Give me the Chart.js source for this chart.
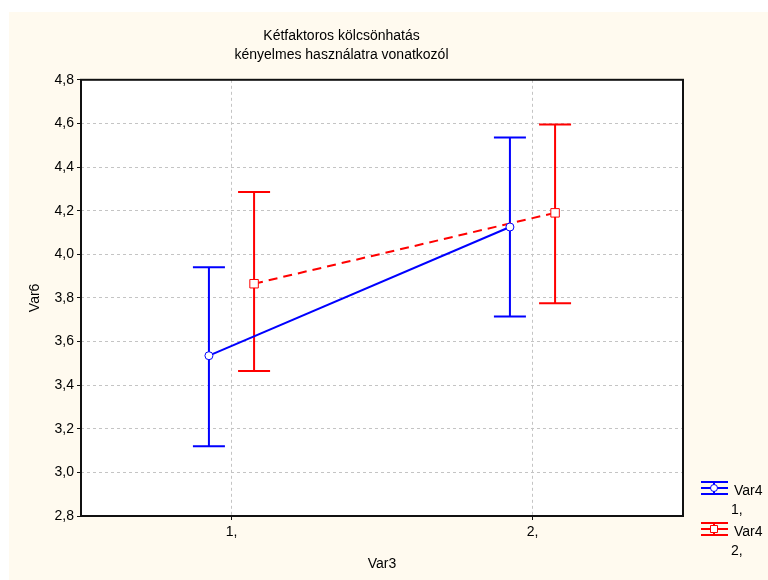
<!DOCTYPE html>
<html>
<head>
<meta charset="utf-8">
<script src="https://cdn.jsdelivr.net/npm/chart.js@4.4.1/dist/chart.umd.min.js"></script>
<style>
    html, body { margin: 0; padding: 0; background: #ffffff; }
    #wrap { width: 768px; height: 580px; }
</style>
</head>
<body>
<div id="wrap"><canvas id="interactionChart" width="768" height="580"></canvas></div>
<script>
// Data (Var6 means with confidence limits)
const categories = ['1,', '2,'];
const titleLines = ['Kétfaktoros kölcsönhatás', 'kényelmes használatra vonatkozól'];
const yTicks = [2.8, 3.0, 3.2, 3.4, 3.6, 3.8, 4.0, 4.2, 4.4, 4.6, 4.8];

const var4Labels = [['Var4', '1,'], ['Var4', '2,']];
const var4aMean = [3.535, 4.125];
const var4aLow = [3.12, 3.715];
const var4aHigh = [3.94, 4.535];
const var4bMean = [3.865, 4.19];
const var4bLow = [3.465, 3.775];
const var4bHigh = [4.285, 4.595];

const FONT = "'Liberation Sans', Arial, sans-serif";
const BLUE = '#0000ff';
const RED = '#ff0000';
const dodge = 0.075;

function buildPoints(means, shift) {
    return means.map((v, i) => ({ x: i + 1 + shift, y: v }));
}

// error bars + frame + legend + background
const errorBarPlugin = {
    id: 'errorBars',
    beforeDraw(chart) {
        const ctx = chart.ctx;
        const a = chart.chartArea;
        ctx.save();
        ctx.fillStyle = '#fffaef';
        ctx.fillRect(9, 12, chart.width - 9, chart.height - 12);
        ctx.fillStyle = '#ffffff';
        ctx.fillRect(a.left, a.top, a.right - a.left, a.bottom - a.top);
        ctx.restore();
    },
    beforeDatasetsDraw(chart) {
        const ctx = chart.ctx;
        const xs = chart.scales.x;
        const ys = chart.scales.y;
        const sets = [
            { low: var4aLow, high: var4aHigh, shift: -dodge, color: BLUE },
            { low: var4bLow, high: var4bHigh, shift: dodge, color: RED }
        ];
        ctx.save();
        sets.forEach(s => {
            ctx.strokeStyle = s.color;
            ctx.lineWidth = 2;
            s.low.forEach((lo, i) => {
                const x = xs.getPixelForValue(i + 1 + s.shift);
                const y1 = ys.getPixelForValue(lo);
                const y2 = ys.getPixelForValue(s.high[i]);
                ctx.beginPath();
                ctx.moveTo(x, y1); ctx.lineTo(x, y2);
                ctx.moveTo(x - 16, y1); ctx.lineTo(x + 16, y1);
                ctx.moveTo(x - 16, y2); ctx.lineTo(x + 16, y2);
                ctx.stroke();
            });
        });
        ctx.restore();
    },
    afterDraw(chart) {
        const ctx = chart.ctx;
        const a = chart.chartArea;
        ctx.save();
        ctx.strokeStyle = '#111111';
        ctx.lineWidth = 2;
        ctx.strokeRect(a.left, a.top, a.right - a.left, a.bottom - a.top);

        // legend
        const items = [
            { color: BLUE, style: 'circle', text: var4Labels[0] },
            { color: RED, style: 'rect', text: var4Labels[1] }
        ];
        items.forEach((it, i) => {
            const y = 488 + i * 41;
            const x0 = 701, x1 = 728, xm = 714;
            ctx.strokeStyle = it.color;
            ctx.lineWidth = 2;
            ctx.beginPath();
            ctx.moveTo(x0, y - 6); ctx.lineTo(x1, y - 6);
            ctx.moveTo(x0, y); ctx.lineTo(x1, y);
            ctx.moveTo(x0, y + 6); ctx.lineTo(x1, y + 6);
            ctx.moveTo(xm, y - 6); ctx.lineTo(xm, y + 6);
            ctx.stroke();
            ctx.fillStyle = '#ffffff';
            ctx.lineWidth = 1;
            ctx.beginPath();
            if (it.style === 'circle') ctx.arc(xm, y, 3.5, 0, Math.PI * 2);
            else ctx.rect(xm - 3.5, y - 3.5, 7, 7);
            ctx.fill();
            ctx.stroke();
            ctx.fillStyle = '#000000';
            ctx.font = '14px ' + FONT;
            ctx.textBaseline = 'middle';
            ctx.textAlign = 'left';
            ctx.fillText(it.text[0], 734, y + 3);
            ctx.fillText(it.text[1], 731, y + 22);
        });
        ctx.restore();
    }
};

const ctxChart = document.getElementById('interactionChart').getContext('2d');
const chart = new Chart(ctxChart, {
    type: 'line',
    data: {
        datasets: [
            {
                label: var4Labels[0].join(' '),
                data: buildPoints(var4aMean, -dodge),
                borderColor: BLUE,
                borderWidth: 2,
                pointStyle: 'circle',
                pointRadius: 4,
                pointBorderWidth: 1,
                pointBackgroundColor: '#ffffff',
                pointBorderColor: BLUE,
                tension: 0
            },
            {
                label: var4Labels[1].join(' '),
                data: buildPoints(var4bMean, dodge),
                borderColor: RED,
                borderWidth: 2,
                borderDash: [9, 6],
                pointStyle: 'rect',
                pointRadius: 6,
                pointBorderWidth: 1,
                pointBackgroundColor: '#ffffff',
                pointBorderColor: RED,
                tension: 0
            }
        ]
    },
    options: {
        responsive: false,
        animation: false,
        layout: { padding: { left: 0, top: 0, right: 85, bottom: 0 } },
        plugins: {
            legend: { display: false },
            tooltip: { enabled: false },
            title: {
                display: true,
                text: titleLines,
                color: '#000000',
                font: { family: FONT, size: 14, weight: 'normal', lineHeight: 1.35 },
                padding: { top: 27, bottom: 15 }
            }
        },
        scales: {
            x: {
                type: 'linear',
                min: 0.5,
                max: 2.5,
                afterBuildTicks: s => { s.ticks = categories.map((c, i) => ({ value: i + 1 })); },
                afterFit: s => { s.height = 64; },
                ticks: {
                    callback: v => categories[v - 1],
                    color: '#000000',
                    font: { family: FONT, size: 14 },
                    padding: 4,
                    maxRotation: 0
                },
                grid: { color: '#c4c4c4', lineWidth: 1, tickLength: 4, tickColor: '#111111', tickWidth: 1 },
                border: { display: false, dash: [3, 3] },
                title: {
                    display: true,
                    text: 'Var3',
                    color: '#000000',
                    font: { family: FONT, size: 14 },
                    padding: { top: 0, bottom: 7 }
                }
            },
            y: {
                min: 2.8,
                max: 4.8,
                afterBuildTicks: s => { s.ticks = yTicks.map(v => ({ value: v })); },
                afterFit: s => { s.width = 81; },
                ticks: {
                    callback: v => v.toFixed(1).replace('.', ','),
                    color: '#000000',
                    font: { family: FONT, size: 14 },
                    padding: 3
                },
                grid: { color: '#c4c4c4', lineWidth: 1, tickLength: 4, tickColor: '#111111', tickWidth: 1 },
                border: { display: false, dash: [3, 3] },
                title: {
                    display: true,
                    text: 'Var6',
                    color: '#000000',
                    font: { family: FONT, size: 14 },
                    padding: { top: 27, bottom: 0 }
                }
            }
        }
    },
    plugins: [errorBarPlugin]
});
</script>
</body>
</html>
